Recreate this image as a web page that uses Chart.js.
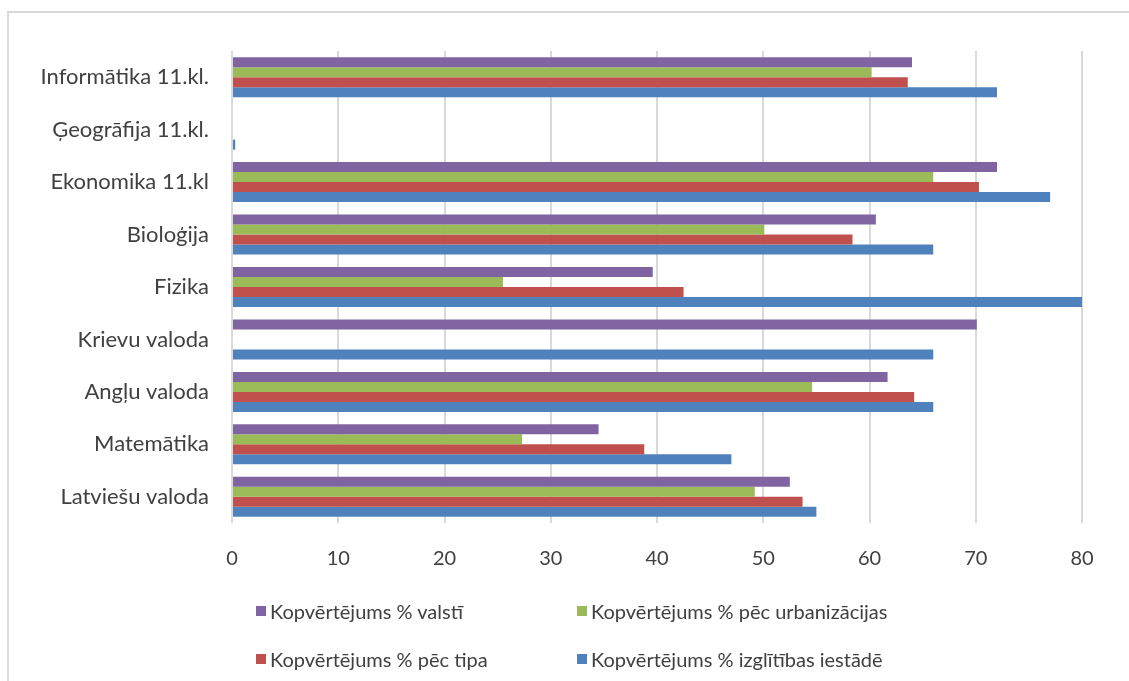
<!DOCTYPE html>
<html>
<head>
<meta charset="utf-8">
<script src="https://cdn.jsdelivr.net/npm/chart.js@4/dist/chart.umd.min.js"></script>
<style>
    html, body { margin: 0; padding: 0; background: #fff; overflow: hidden; }
    #wrap { position: relative; width: 1129px; height: 681px; }
    #frame { position: absolute; left: 7px; top: 11px; width: 1200px; height: 800px; border: 2px solid #d9d9d9; }
    #c { position: absolute; left: 0; top: 0; }
    #legend { position: absolute; left: 256px; top: 599px; font-family: Lato, sans-serif; font-size: 20px; color: #404040; }
    .item { position: absolute; white-space: nowrap; line-height: 24px; }
    .box { position: absolute; left: 0; top: 7px; width: 10px; height: 10px; }
    .txt { position: absolute; left: 14px; top: 0; }
</style>
</head>
<body>
<div id="wrap">
    <div id="frame"></div>
    <canvas id="c" width="1129" height="681"></canvas>
    <div id="legend"></div>
</div>
<script>
// kategorijas (no augšas uz leju)
const subjects = ["Informātika 11.kl.", "Ģeogrāfija 11.kl.", "Ekonomika 11.kl", "Bioloģija", "Fizika",
    "Krievu valoda", "Angļu valoda", "Matemātika", "Latviešu valoda"];

const seriesNames = ["Kopvērtējums % valstī", "Kopvērtējums % pēc urbanizācijas",
    "Kopvērtējums % pēc tipa", "Kopvērtējums % izglītības iestādē"];

const valsti = [64, 0, 72, 60.6, 39.6, 70.1, 61.7, 34.5, 52.5];
const urbanizacija = [60.2, 0, 66, 50.1, 25.5, 0, 54.6, 27.3, 49.2];
const tips = [63.6, 0, 70.3, 58.4, 42.5, 0, 64.2, 38.8, 53.7];
const iestade = [72, 0.3, 77, 66, 80, 66, 66, 47, 55];

const xTicks = [0, 10, 20, 30, 40, 50, 60, 70, 80];

const colors = ["#8064A2", "#9BBB59", "#C0504D", "#4F81BD"];
const allValues = [valsti, urbanizacija, tips, iestade];

const datasets = allValues.map((vals, i) => ({
    label: seriesNames[i],
    data: vals,
    backgroundColor: colors[i],
    borderWidth: 0,
    categoryPercentage: 0.763,
    barPercentage: 1.0
}));

new Chart(document.getElementById("c"), {
    type: "bar",
    data: { labels: subjects, datasets: datasets },
    options: {
        indexAxis: "y",
        responsive: false,
        animation: false,
        layout: { padding: { left: 0, top: 51, right: 47, bottom: 108 } },
        scales: {
            x: {
                min: 0,
                max: 80,
                afterBuildTicks: (s) => { s.ticks = xTicks.map(v => ({ value: v })); },
                afterFit: (s) => { s.height = 50; },
                border: { display: false },
                grid: { color: "#d9d9d9", lineWidth: 2, drawTicks: false },
                ticks: { color: "#404040", padding: 24, font: { family: "Lato", size: 20 } }
            },
            y: {
                afterFit: (s) => { s.width = 232; },
                border: { display: false },
                grid: { display: false, drawTicks: false },
                ticks: { color: "#404040", padding: 23, font: { family: "Lato", size: 22 } }
            }
        },
        plugins: {
            legend: { display: false },
            tooltip: { enabled: false }
        }
    }
});

// leģenda divās kolonnās
const legend = document.getElementById("legend");
datasets.forEach((ds, i) => {
    const item = document.createElement("div");
    item.className = "item";
    item.style.left = (i % 2 === 0 ? 0 : 321) + "px";
    item.style.top = (i < 2 ? 0 : 48) + "px";
    item.innerHTML = '<span class="box" style="background:' + ds.backgroundColor + '"></span><span class="txt"></span>';
    item.querySelector(".txt").textContent = ds.label;
    legend.appendChild(item);
});
</script>
</body>
</html>
